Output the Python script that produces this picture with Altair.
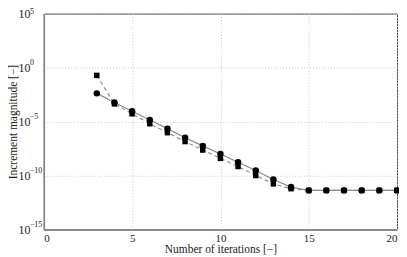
import altair as alt
import pandas as pd

iterations = [3, 4, 5, 6, 7, 8, 9, 10, 11, 12, 13, 14, 15, 16, 17, 18, 19, 20]
circle_vals = [4.1e-3, 5.8e-4, 9.1e-5, 1.4e-5, 2.2e-6, 3.2e-7, 5.6e-8, 9.8e-9,
               1.7e-9, 2.9e-10, 4.3e-11, 8.5e-12, 4.2e-12, 4.2e-12, 4.2e-12,
               4.2e-12, 4.2e-12, 4.2e-12]
square_vals = [1.9e-1, 4.3e-4, 5.2e-5, 6.3e-6, 9.3e-7, 1.4e-7, 2.3e-8, 3.9e-9,
               6.8e-10, 1.0e-10, 1.7e-11, 6.0e-12, 4.2e-12, 4.2e-12, 4.2e-12,
               4.2e-12, 4.2e-12, 4.2e-12]
x_ticks = [0, 5, 10, 15, 20]
y_ticks = [1e-15, 1e-10, 1e-5, 1e0, 1e5]
y_exponents = ["−15", "−10", "−5", "0", "5"]

df_c = pd.DataFrame({"it": iterations, "val": circle_vals})
df_s = pd.DataFrame({"it": iterations, "val": square_vals})
df_exp = pd.DataFrame({"val": y_ticks, "exp": y_exponents})

FONT = "Liberation Serif"

x_scale = alt.Scale(domain=[0, 20], nice=False)
y_scale = alt.Scale(type="log", domain=[1e-15, 1e5], nice=False)

x_enc = alt.X("it:Q", scale=x_scale,
              axis=alt.Axis(values=x_ticks, title="Number of iterations [−]",
                            format="d", ticks=False, tickSize=0, labelPadding=3,
                            labelFontSize=11, titlePadding=0, grid=True))
y_enc = alt.Y("val:Q", scale=y_scale,
              axis=alt.Axis(values=y_ticks, title="Increment magnitude [−]",
                            labelExpr="'10'", ticks=False, tickSize=0,
                            labelFontSize=12, labelAlign="left", labelPadding=26,
                            titleX=-25, titleBaseline="bottom", grid=True))

line_s = alt.Chart(df_s).mark_line(color="#8a8a8a", strokeWidth=1.1,
                                   strokeDash=[4, 3]).encode(x=x_enc, y=y_enc)
pts_s = alt.Chart(df_s).mark_point(shape="square", filled=True, color="black",
                                   opacity=1, size=30).encode(x=x_enc, y=y_enc)
line_c = alt.Chart(df_c).mark_line(color="#8a8a8a", strokeWidth=1.2).encode(x=x_enc, y=y_enc)
pts_c = alt.Chart(df_c).mark_circle(color="black", opacity=1, size=42).encode(x=x_enc, y=y_enc)

exp_base = alt.Chart(df_exp).encode(
    x=alt.datum(0, scale=x_scale), y=alt.Y("val:Q", scale=y_scale), text="exp:N")
exp_low = exp_base.mark_text(
    font=FONT, fontSize=8, align="left", baseline="middle", dx=-14, dy=-5,
    color="#222").transform_filter("datum.val < 1e4")
exp_top = exp_base.mark_text(
    font=FONT, fontSize=8, align="left", baseline="middle", dx=-14, dy=-1.5,
    color="#222").transform_filter("datum.val > 1e4")

chart = alt.layer(line_s, pts_s, line_c, pts_c, exp_low, exp_top).properties(
    width=355, height=217,
    autosize=alt.AutoSizeParams(type="none"),
    padding={"left": 36, "top": 5, "right": 2, "bottom": 26},
).configure_view(
    stroke="#444", strokeWidth=1
).configure_axis(
    labelFont=FONT, titleFont=FONT, titleFontSize=11.5,
    labelColor="#222", titleColor="#222", titleFontWeight="normal",
    domainColor="#808080", domainWidth=1.5,
    gridColor="#c8c8c8", gridDash=[1, 2], gridWidth=1,
)

chart.save("out.html", embed_options={"renderer": "svg", "actions": False})
